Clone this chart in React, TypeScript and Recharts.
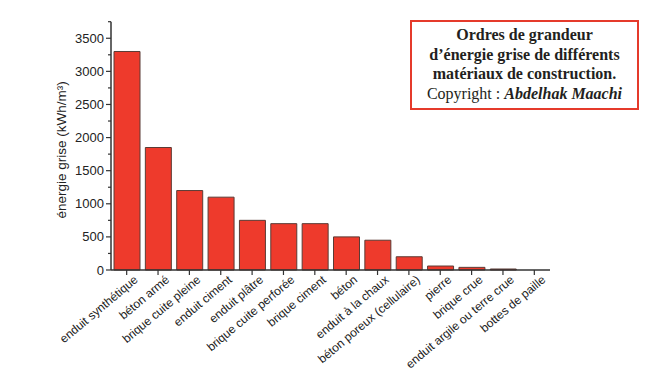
import React from 'react';
import { BarChart, Bar, XAxis, YAxis, Label } from 'recharts';

const categories = [
  'enduit synthétique',
  'béton armé',
  'brique cuite pleine',
  'enduit ciment',
  'enduit plâtre',
  'brique cuite perforée',
  'brique ciment',
  'béton',
  'enduit à la chaux',
  'béton poreux (cellulaire)',
  'pierre',
  'brique crue',
  'enduit argile ou terre crue',
  'bottes de paille',
];

const energy = [3300, 1850, 1200, 1100, 750, 700, 700, 500, 450, 200, 60, 40, 15, 0];

const yTicks = [0, 250, 500, 750, 1000, 1250, 1500, 1750, 2000, 2250, 2500, 2750, 3000, 3250, 3500, 3750];

const data = categories.map((name, i) => ({ name, energy: energy[i] }));

const SANS = '"Liberation Sans", Arial, sans-serif';
const AXIS = '#333';

// rotated category labels, end of text sits just right of the tick
function XTick({ x, y, payload }: any) {
  const ax = x + 12;
  const ay = y + 4;
  return (
    <text
      x={ax}
      y={ay}
      transform={`rotate(-40, ${ax}, ${ay})`}
      textAnchor="end"
      fontSize={12}
      fontFamily={SANS}
      fill="#222"
    >
      {payload.value}
    </text>
  );
}

// major ticks every 500 with a label, minor ticks in between
function YTick({ x, y, payload }: any) {
  const axisX = x + 7;
  const major = payload.value % 500 === 0;
  return (
    <g>
      <line x1={axisX - (major ? 5 : 3)} x2={axisX} y1={y} y2={y} stroke={AXIS} strokeWidth={1.2} />
      {major && (
        <text x={x} y={y} dy={4.5} textAnchor="end" fontSize={13} fontFamily={SANS} fill="#222">
          {payload.value}
        </text>
      )}
    </g>
  );
}

function YLabel({ viewBox }: any) {
  const cx = viewBox.x + 62;
  const cy = viewBox.y + viewBox.height / 2 + 4;
  return (
    <text
      x={cx}
      y={cy}
      transform={`rotate(-90, ${cx}, ${cy})`}
      textAnchor="middle"
      dominantBaseline="central"
      fontSize={13.5}
      fontFamily={SANS}
      fill="#222"
    >
      énergie grise (kWh/m³)
    </text>
  );
}

export default function App() {
  return (
    <div style={{ position: 'absolute', left: 0, top: 0, width: 653, height: 373, background: '#fff' }}>
      <BarChart
        width={653}
        height={373}
        data={data}
        margin={{ top: 21.7, right: 103, left: 0, bottom: 0 }}
      >
        <XAxis
          dataKey="name"
          height={103}
          interval={0}
          tick={<XTick />}
          tickSize={5}
          tickMargin={2}
          axisLine={{ stroke: AXIS, strokeWidth: 1.5 }}
          tickLine={{ stroke: AXIS, strokeWidth: 1.2 }}
        />
        <YAxis
          width={111}
          domain={[0, 3750]}
          ticks={yTicks}
          interval={0}
          tick={<YTick />}
          tickSize={5}
          tickMargin={2}
          tickLine={false}
          axisLine={{ stroke: AXIS, strokeWidth: 1.5 }}
        >
          <Label content={<YLabel />} />
        </YAxis>
        <Bar
          dataKey="energy"
          fill="#EE3A2C"
          stroke="#5b3b35"
          strokeWidth={1}
          barSize={26}
          isAnimationActive={false}
        />
      </BarChart>
      <div
        style={{
          position: 'absolute',
          left: 410,
          top: 20,
          width: 229,
          height: 90,
          boxSizing: 'border-box',
          border: '2px solid #E53A2B',
          paddingTop: 3,
          textAlign: 'center',
          fontFamily: '"Liberation Serif", "Times New Roman", serif',
          fontSize: 16,
          lineHeight: '19.5px',
          color: '#231f20',
        }}
      >
        <b>Ordres de grandeur</b>
        <br />
        <b>d’énergie grise de différents</b>
        <br />
        <b>matériaux de construction.</b>
        <br />
        Copyright : <b><i>Abdelhak Maachi</i></b>
      </div>
    </div>
  );
}
